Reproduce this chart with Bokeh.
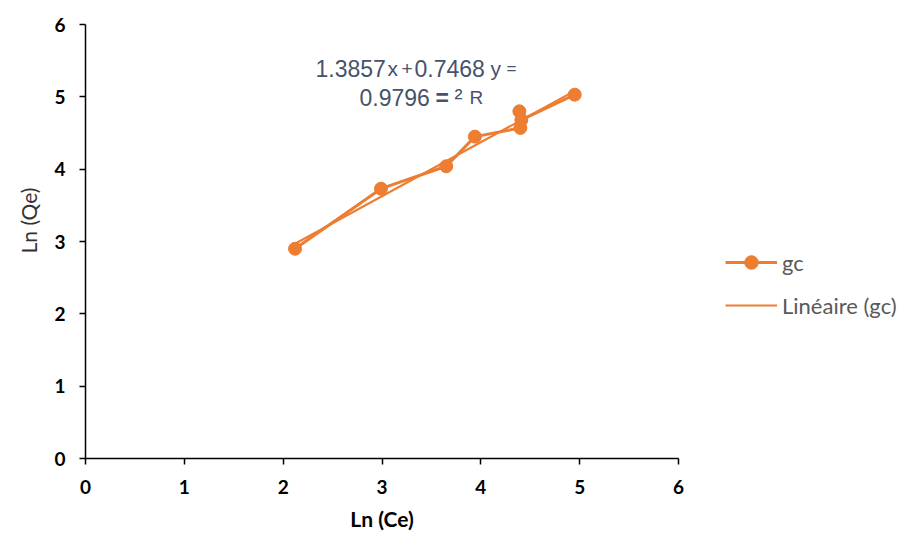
from bokeh.plotting import figure
from bokeh.models import Range1d, Legend, LegendItem, Label, FixedTicker, Title
from bokeh.embed import file_html
from bokeh.resources import INLINE

ln_ce = [2.12, 2.99, 3.65, 3.94, 4.40, 4.39, 4.41, 4.95]
ln_qe = [2.90, 3.73, 4.04, 4.45, 4.57, 4.80, 4.68, 5.03]
slope = 0.7468
intercept = 1.3857
r2 = 0.9796
x_ticks = [0, 1, 2, 3, 4, 5, 6]
y_ticks = [0, 1, 2, 3, 4, 5, 6]

ORANGE = "#ED7D31"
EQ = "#44546A"
L, T, FW, FH = 85, 24, 593, 434

p = figure(frame_width=FW, frame_height=FH, output_backend="svg", toolbar_location=None,
           x_range=Range1d(0, 6), y_range=Range1d(0, 6),
           min_border_left=L, min_border_right=902 - L - FW, min_border_top=T,
           min_border_bottom=534 - T - FH)
p.outline_line_color = None
p.xgrid.visible = False
p.ygrid.visible = False

fx = [min(ln_ce), max(ln_ce)]
fy = [slope * v + intercept for v in fx]

r1 = p.line(ln_ce, ln_qe, line_color=ORANGE, line_width=3)
r2c = p.scatter(ln_ce, ln_qe, size=13, fill_color=ORANGE, line_color=ORANGE)
r3 = p.line(fx, fy, line_color=ORANGE, line_width=2)

for ax in (p.xaxis[0], p.yaxis[0]):
    ax.axis_line_color = "black"
    ax.axis_line_width = 1.5
    ax.major_tick_line_color = "black"
    ax.major_tick_line_width = 1.5
    ax.major_tick_out = 6
    ax.major_tick_in = 0
    ax.minor_tick_line_color = None
    ax.major_label_text_font = "Lato"
    ax.major_label_text_font_style = "bold"
    ax.major_label_text_font_size = "19px"
    ax.major_label_text_color = "black"
p.xaxis[0].ticker = FixedTicker(ticks=x_ticks)
p.yaxis[0].ticker = FixedTicker(ticks=y_ticks)
p.xaxis[0].major_label_standoff = 15
p.yaxis[0].major_label_standoff = 14

p.xaxis[0].axis_label = "Ln (Ce)"
p.xaxis[0].axis_label_text_font = "Lato"
p.xaxis[0].axis_label_text_font_style = "bold"
p.xaxis[0].axis_label_text_font_size = "21px"
p.xaxis[0].axis_label_text_color = "black"
p.xaxis[0].axis_label_standoff = 9

p.add_layout(Title(text="Ln (Qe)", align="left", offset=205, text_font="Lato",
                   text_font_style="normal", text_font_size="21px", text_color="#333333",
                   standoff=22), "left")


def put(x, y, text, size, bold=False):
    p.add_layout(Label(x=x - L, y=T + FH - y, x_units="screen", y_units="screen",
                       text=text, text_font="Liberation Sans", text_font_size=size,
                       text_font_style="bold" if bold else "normal",
                       text_color=EQ, text_align="left", text_baseline="alphabetic"))


b1, b2 = 68, 97
put(315, b1, "%.4f" % intercept, "23px")
put(387, b1, "x", "21px")
put(401, b1, "+", "19px")
put(414, b1, "%.4f" % slope, "23px")
put(490, b1, "y", "21px")
put(506, b1, "=", "17px")
put(359, b2, "%.4f" % r2, "23px")
put(435, b2, "=", "23px", bold=True)
put(454, b2, "²", "24px")
put(469, b2, "R", "19px")

legend = Legend(items=[LegendItem(label="gc", renderers=[r1, r2c]),
                       LegendItem(label="Linéaire (gc)", renderers=[r3])],
                location=(47, 136), glyph_width=52, glyph_height=34, spacing=9,
                label_text_font="Lato", label_text_font_size="22px", label_text_color="#595959",
                border_line_color=None, background_fill_alpha=0, padding=0, margin=0,
                label_standoff=5)
p.add_layout(legend, "right")

open("out.html", "w").write(file_html(p, INLINE))
